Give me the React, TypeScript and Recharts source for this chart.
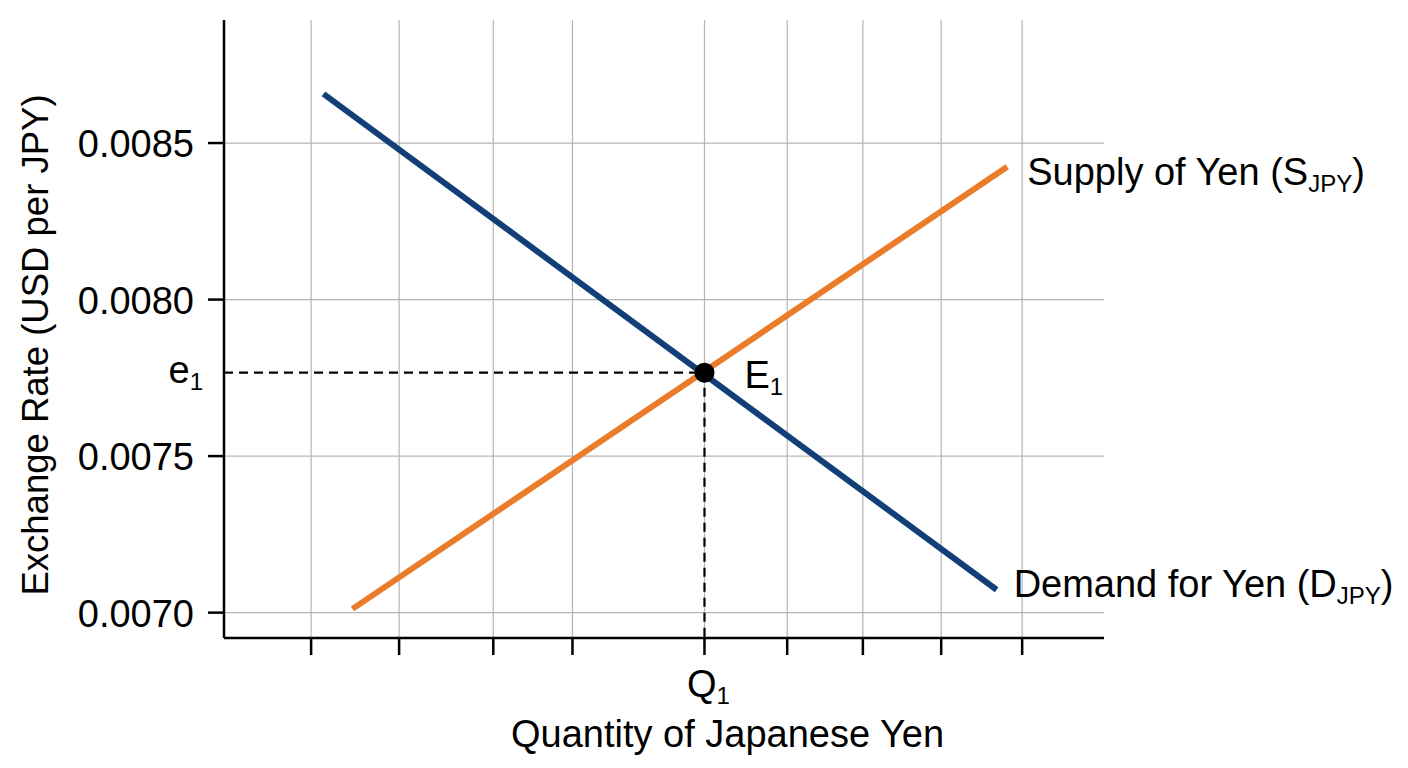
import React from "react";
import {
  LineChart,
  Line,
  XAxis,
  YAxis,
  CartesianGrid,
  ReferenceLine,
  ReferenceDot,
} from "recharts";

// quantity axis runs 0..100 (no units shown), exchange rate in USD per JPY
const quantityTicks = [9.9, 19.9, 30.6, 39.6, 54.6, 64.0, 72.6, 81.5, 90.7];
const rateTicks = [0.007, 0.0075, 0.008, 0.0085];

const demandYen = [
  { q: 11.3, p: 0.008657 },
  { q: 87.8, p: 0.007073 },
];
const supplyYen = [
  { q: 14.6, p: 0.007012 },
  { q: 89.0, p: 0.008424 },
];

const Q1 = 54.6;
const E1 = 0.0077666;

const X_DOMAIN = [0, 100];
const Y_DOMAIN = [0.006919, 0.008893];

const FONT = "'Liberation Sans', Arial, Helvetica, sans-serif";
const FS = 38;
const SUB = 24;
const PLOT_LEFT = 216;
const BLUE = "#123f77";
const ORANGE = "#ea7c2a";

function RateTick(props: any) {
  const { y, payload } = props;
  const v = payload.value;
  if (v === E1) {
    return (
      <text x={PLOT_LEFT - 21} y={y} dy={10} textAnchor="end" fontSize={FS} fontFamily={FONT} fill="#000">
        e
        <tspan fontSize={SUB} dy={7}>1</tspan>
      </text>
    );
  }
  return (
    <g>
      <line x1={PLOT_LEFT - 16} x2={PLOT_LEFT} y1={y} y2={y} stroke="#000" strokeWidth={2.5} />
      <text x={PLOT_LEFT - 30} y={y} dy={14} textAnchor="end" fontSize={FS} fontFamily={FONT} fill="#000">
        {v.toFixed(4)}
      </text>
    </g>
  );
}

function QuantityTick(props: any) {
  const { x, y, payload } = props;
  if (payload.value !== Q1) return <g />;
  return (
    <text x={x + 4} y={y} dy={42} textAnchor="middle" fontSize={FS} fontFamily={FONT} fill="#000">
      Q
      <tspan fontSize={SUB} dy={7}>1</tspan>
    </text>
  );
}

const xTitle = (props: any) => {
  const vb = props.viewBox;
  return (
    <text x={vb.x + 503.5} y={vb.y + 109} textAnchor="middle" fontSize={FS} fontFamily={FONT} fill="#000">
      Quantity of Japanese Yen
    </text>
  );
};

const yTitle = (props: any) => {
  const vb = props.viewBox;
  const cx = vb.x + 40;
  const cy = vb.y + 325;
  return (
    <text
      x={cx}
      y={cy}
      transform={`rotate(-90 ${cx} ${cy})`}
      textAnchor="middle"
      fontSize={36.5}
      fontFamily={FONT}
      fill="#000"
    >
      Exchange Rate (USD per JPY)
    </text>
  );
};

function curveLabel(main: string, sub: string, dx: number, dy: number) {
  return (props: any) => {
    const vb = props.viewBox;
    return (
      <text x={vb.x + dx} y={vb.y + dy} fontSize={FS} fontFamily={FONT} fill="#000">
        {main}
        <tspan fontSize={SUB} dy={7}>{sub}</tspan>
        <tspan dy={-7}>)</tspan>
      </text>
    );
  };
}

const e1Label = (props: any) => {
  const vb = props.viewBox;
  const cx = vb.x + vb.width / 2;
  const cy = vb.y + vb.height / 2;
  return (
    <text x={cx + 40} y={cy + 15} fontSize={FS} fontFamily={FONT} fill="#000">
      E
      <tspan fontSize={SUB} dy={7}>1</tspan>
    </text>
  );
};

export default function App() {
  const last = (arr: { q: number; p: number }[]) => arr[arr.length - 1];
  return (
    <div style={{ fontFamily: FONT }}>
      <LineChart width={1392} height={752} margin={{ top: 12, right: 296, bottom: 0, left: 0 }}>
        <CartesianGrid
          stroke="#b5b5b5"
          strokeWidth={1.2}
          horizontalValues={rateTicks}
          verticalValues={quantityTicks}
        />
        <XAxis
          type="number"
          dataKey="q"
          domain={X_DOMAIN}
          allowDataOverflow
          ticks={quantityTicks}
          interval={0}
          height={122}
          tickSize={17}
          tickMargin={0}
          tickLine={{ stroke: "#000", strokeWidth: 2.5 }}
          axisLine={{ stroke: "#000", strokeWidth: 2.5 }}
          tick={<QuantityTick />}
          label={xTitle}
        />
        <YAxis
          type="number"
          dataKey="p"
          domain={Y_DOMAIN}
          allowDataOverflow
          ticks={[rateTicks[0], E1, ...rateTicks.slice(1)]}
          interval={0}
          width={PLOT_LEFT}
          tickLine={false}
          axisLine={{ stroke: "#000", strokeWidth: 2.5 }}
          tick={<RateTick />}
          label={yTitle}
        />
        <ReferenceLine
          segment={[{ x: X_DOMAIN[0], y: E1 }, { x: Q1, y: E1 }]}
          stroke="#000"
          strokeWidth={2.2}
          strokeDasharray="9 6"
        />
        <ReferenceLine
          segment={[{ x: Q1, y: E1 }, { x: Q1, y: Y_DOMAIN[0] }]}
          stroke="#000"
          strokeWidth={2.2}
          strokeDasharray="9 6"
        />
        <Line
          data={demandYen}
          dataKey="p"
          type="linear"
          stroke={BLUE}
          strokeWidth={6}
          dot={false}
          activeDot={false}
          isAnimationActive={false}
        />
        <Line
          data={supplyYen}
          dataKey="p"
          type="linear"
          stroke={ORANGE}
          strokeWidth={6}
          dot={false}
          activeDot={false}
          isAnimationActive={false}
        />
        <ReferenceDot
          x={last(supplyYen).q}
          y={last(supplyYen).p}
          r={0}
          stroke="none"
          label={curveLabel("Supply of Yen (S", "JPY", 20, 18)}
        />
        <ReferenceDot
          x={last(demandYen).q}
          y={last(demandYen).p}
          r={0}
          stroke="none"
          label={curveLabel("Demand for Yen (D", "JPY", 17, 7)}
        />
        <ReferenceDot x={Q1} y={E1} r={10} fill="#000" stroke="none" label={e1Label} />
      </LineChart>
    </div>
  );
}
